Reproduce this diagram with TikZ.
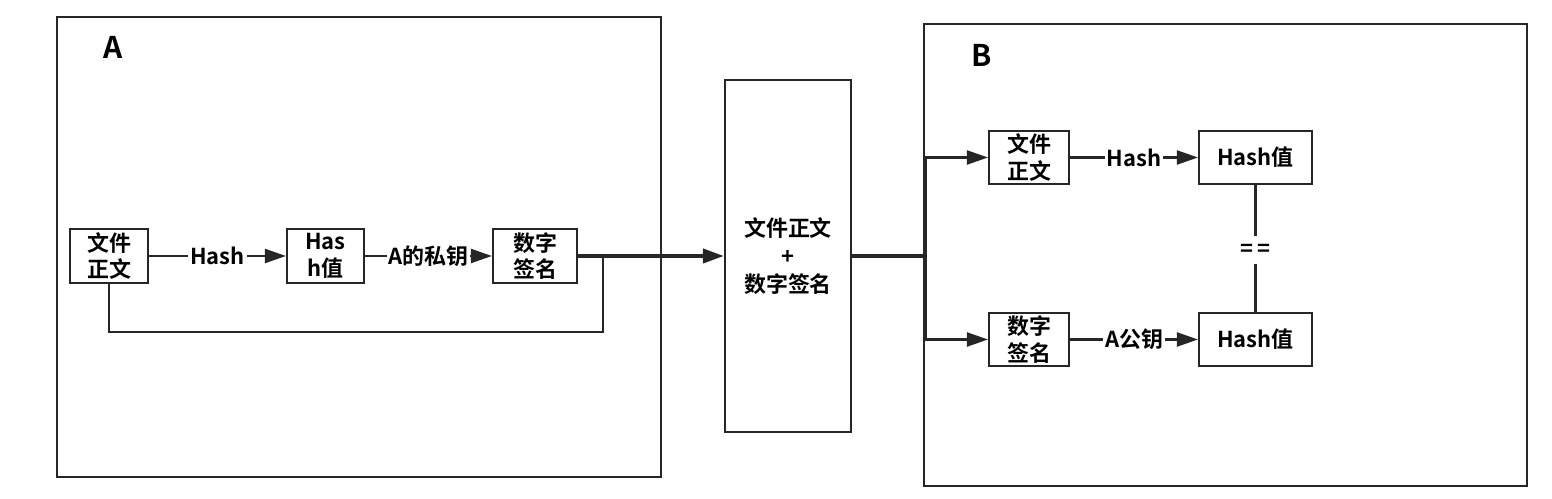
\documentclass[tikz,border=0pt]{standalone}
\usepackage{fontspec}
\setmainfont{Noto Sans CJK SC}[BoldFont=* Bold]
\usetikzlibrary{arrows.meta}
\begin{document}
\begin{tikzpicture}[
    x=0.02cm, y=-0.02cm,
    box/.style={rectangle, draw=black!85, line width=1.2pt, minimum height=1.07cm, align=center, font=\bfseries\fontsize{12.5}{15}\selectfont, inner sep=1pt},
    frame/.style={draw=black!85, line width=1.1pt},
    tag/.style={font=\bfseries\fontsize{17}{20}\selectfont},
    arrow/.style={-{Triangle[length=0.42cm, width=0.28cm]}, line width=1.2pt, draw=black!85},
    trunk/.style={line width=2.2pt, draw=black!85},
    label/.style={fill=white, inner sep=1pt, font=\bfseries\fontsize{12.5}{15}\selectfont}
]
\useasboundingbox (0,0) rectangle (1552,499);

% Frames
\draw[frame] (57,17) rectangle (661,477);
\draw[frame] (924,24) rectangle (1527,486);
\node[tag] (tag_a) at (113,47) {A};
\node[tag] (tag_b) at (982,55) {B};

% A side
\node[box, minimum width=1.56cm] (a_text) at (109,256) {文件\\正文};
\node[box, minimum width=1.54cm] (a_hash) at (325.5,256) {Has\\h值};
\node[box, minimum width=1.68cm] (a_sign) at (535,256) {数字\\签名};
\coordinate (a_join) at (603,256);
\coordinate (a_loop) at (603,332);

% Middle
\node[box, minimum width=2.52cm, minimum height=7.04cm, font=\bfseries\fontsize{12.5}{16}\selectfont] (mid) at (788,256) {文件正文\\+\\数字签名};
\coordinate (split) at (926,256);

% B side
\node[box, minimum width=1.6cm] (b_text) at (1029,157.5) {文件\\正文};
\node[box, minimum width=2.26cm] (b_hash) at (1255.5,157.5) {Hash值};
\node[box, minimum width=1.6cm] (b_sign) at (1029,339.5) {数字\\签名};
\node[box, minimum width=2.26cm] (b_dec) at (1255.5,339.5) {Hash值};
\node[font=\bfseries\fontsize{12.5}{15}\selectfont, minimum height=0.54cm, inner sep=0pt] (eq) at (1255.5,250) {=\,=};

% Arrows with labels
\draw[arrow] (a_text) -- (a_hash) node[midway, label] {Hash};
\draw[arrow] (a_hash) -- (a_sign) node[midway, label] {A的私钥};
\draw[line width=1.2pt, draw=black!85] (a_text.south) |- (a_loop) -- (a_join);
\draw[trunk, -{Triangle[length=0.42cm, width=0.28cm]}] (a_sign) -- (mid);
\draw[trunk] (mid) -- (split);
\draw[arrow] (split) |- (b_text.west);
\draw[arrow] (split) |- (b_sign.west);
\draw[arrow] (b_text) -- (b_hash) node[midway, label] {Hash};
\draw[arrow] (b_sign) -- (b_dec) node[midway, label] {A公钥};
\draw[line width=1.2pt, draw=black!85] (b_hash) -- (eq) -- (b_dec);

\end{tikzpicture}
\end{document}
